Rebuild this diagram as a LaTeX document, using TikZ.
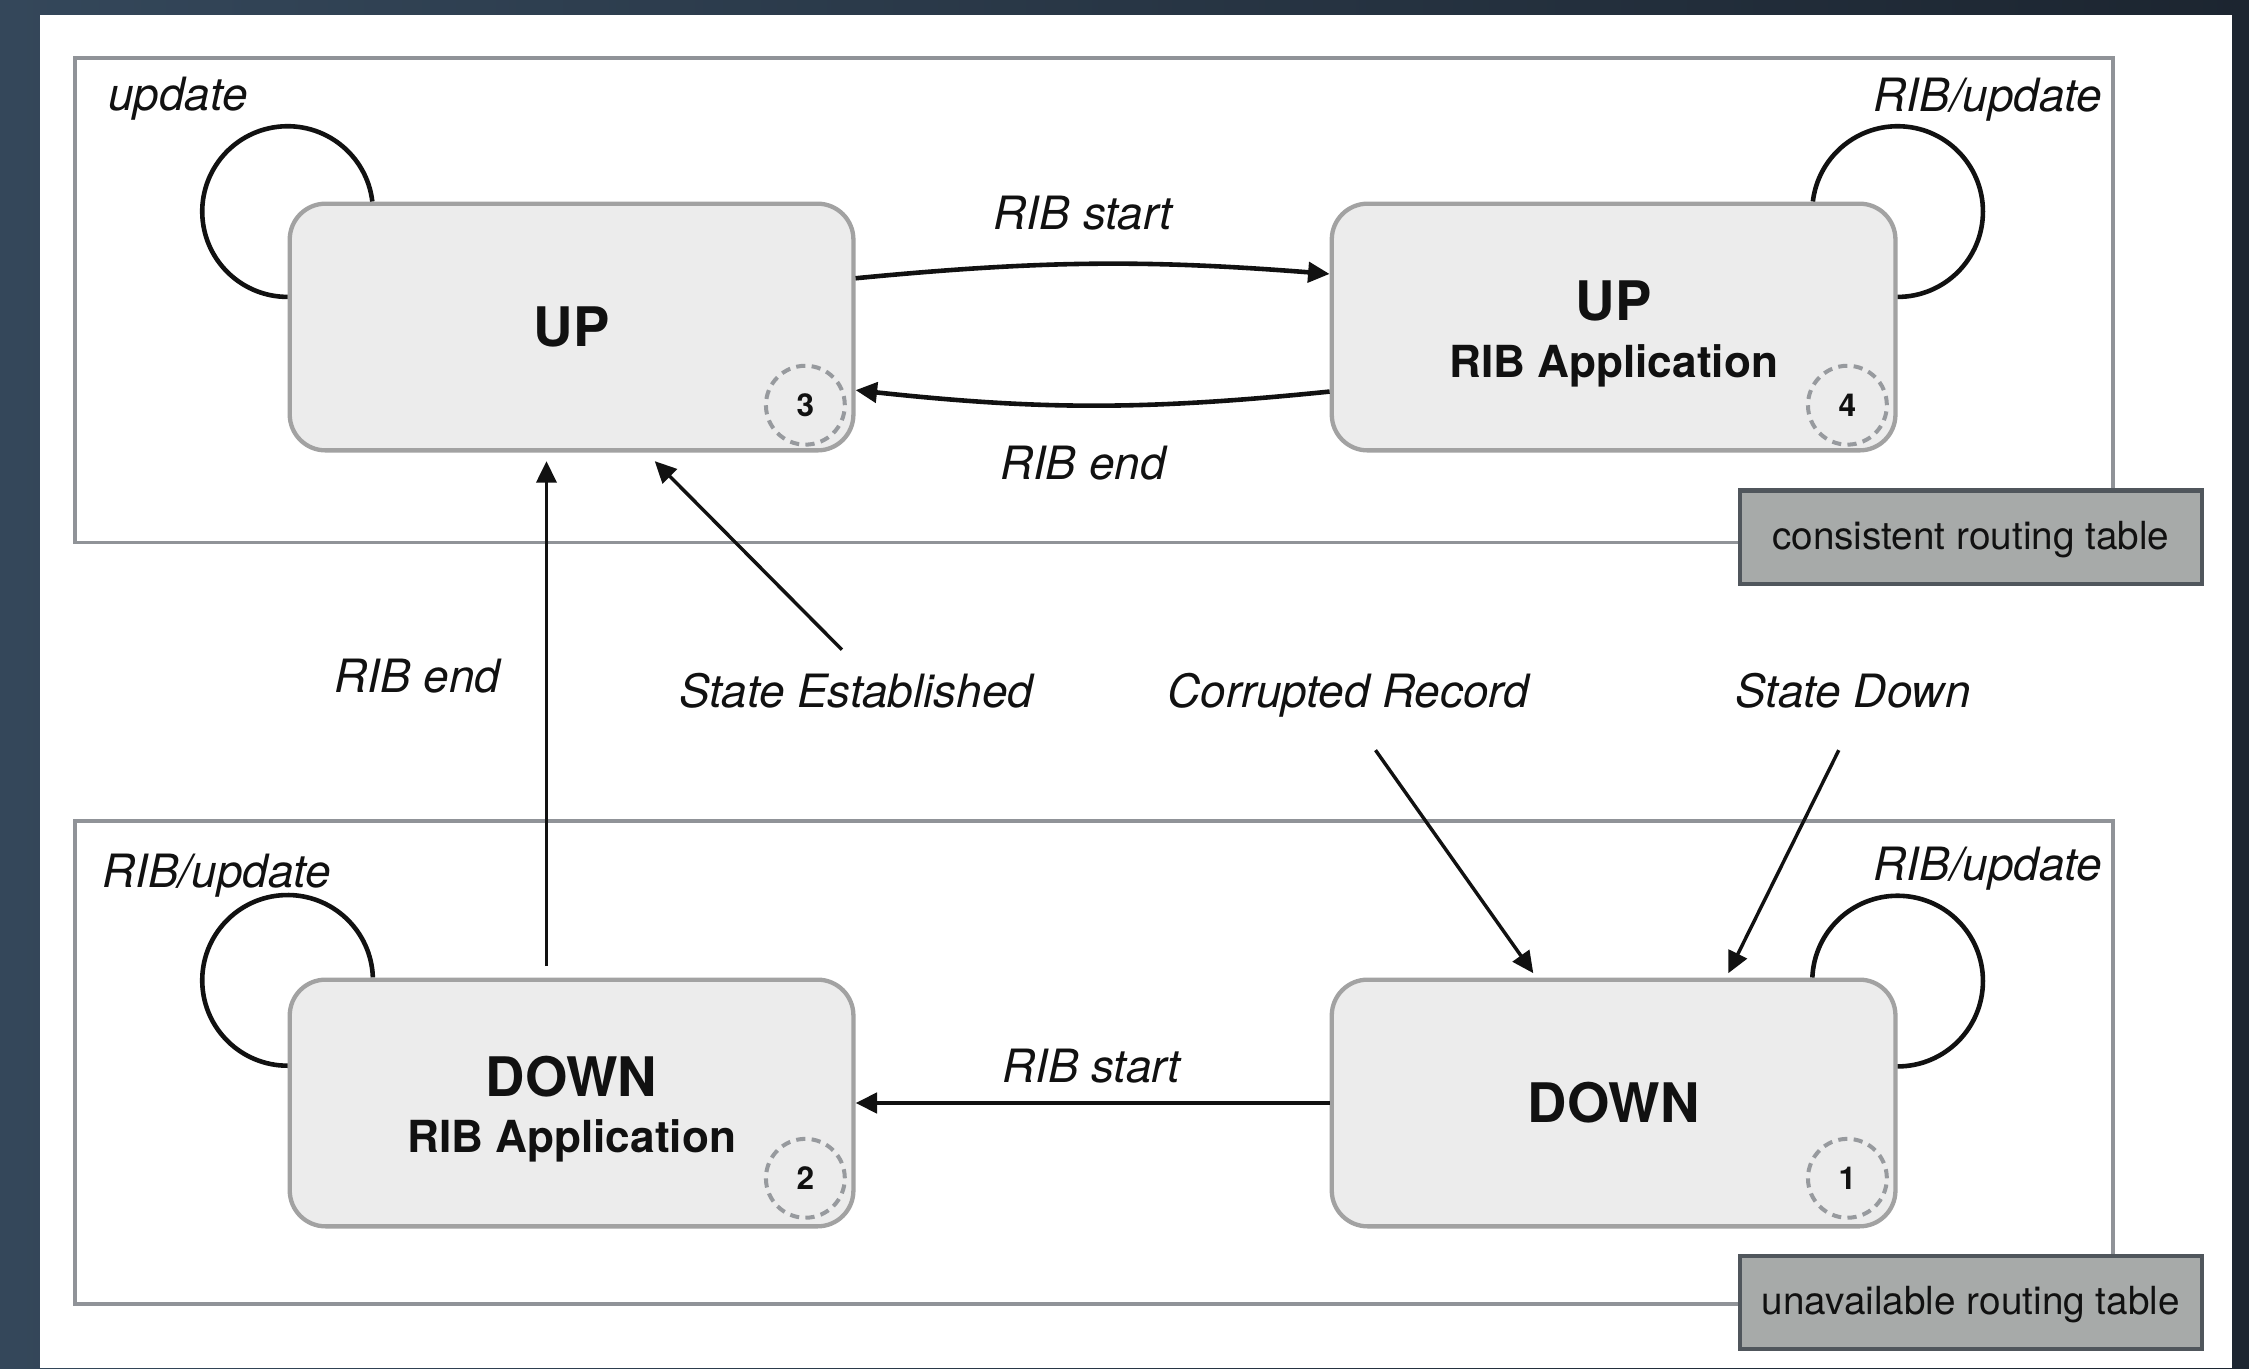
\documentclass[tikz,border=0pt]{standalone}
\usepackage{fontspec}
\setmainfont{TeX Gyre Heros}
\usetikzlibrary{calc,arrows.meta}
\definecolor{bgleft}{HTML}{34475A}
\definecolor{bgright}{HTML}{1C2530}
\definecolor{framegray}{HTML}{909398}
\definecolor{statefill}{HTML}{ECECEC}
\definecolor{stateline}{HTML}{A2A2A2}
\definecolor{badgegray}{HTML}{979A9E}
\definecolor{tagfill}{HTML}{A7AAA9}
\definecolor{tagline}{HTML}{50565C}
\definecolor{ink}{HTML}{111111}
\begin{document}
\begin{tikzpicture}[x=0.5pt,y=0.5pt,
  statebox/.style={draw=stateline, fill=statefill, line width=1.5pt, rounded corners=12.5pt,
    minimum width=196.5pt, minimum height=86pt, inner sep=0pt, align=center,
    font=\fontsize{15.4}{19.7}\selectfont\bfseries, text=ink},
  badge/.style={circle, draw=badgegray, dash pattern=on 3.2pt off 2.2pt, line width=1.4pt,
    minimum size=27.5pt, inner sep=0pt, font=\fontsize{11}{13}\selectfont\bfseries, text=ink},
  frame/.style={draw=framegray, line width=1.3pt, inner sep=0pt, anchor=north west},
  tag/.style={draw=tagline, fill=tagfill, line width=1.5pt, minimum width=161pt,
    minimum height=32.5pt, inner sep=0pt, text height=9.5pt, text depth=1pt,
    font=\fontsize{13.5}{16}\selectfont, text=ink},
  lbl/.style={anchor=base, inner sep=0pt, font=\fontsize{16}{19}\selectfont\itshape, text=ink},
  arr/.style={-{Triangle[length=7.5pt,width=7pt]}, line width=1.6pt, draw=ink},
  thinarr/.style={-{Triangle[length=7.5pt,width=7pt]}, line width=1.2pt, draw=ink},
  selfloop/.style={line width=1.6pt, draw=ink},
]
% background and canvas
\fill[left color=bgleft, right color=bgright] (0,0) rectangle (1568,-954);
\useasboundingbox (0,0) rectangle (1568,-954);
\fill[white] (28,-10.5) rectangle (1556,-954);

% group frames
\node[frame, minimum width=710.5pt, minimum height=169pt] (gtop) at (51,-39) {};
\node[frame, minimum width=710.5pt, minimum height=168.5pt] (gbot) at (51,-571) {};
\node[tag] (tagtop) at (1374,-374.5) {consistent routing table};
\node[tag] (tagbot) at (1374,-908) {unavailable routing table};

% states
\node[statebox] (s3) at (398.5,-228) {{\fontsize{19}{19.7}\selectfont UP}};
\node[statebox] (s4) at (1125,-228) {{\fontsize{19}{19.7}\selectfont\rule{0pt}{18.5pt}UP}\\RIB Application};
\node[statebox] (s2) at (398.5,-769) {{\fontsize{19}{19.7}\selectfont\rule{0pt}{18.5pt}DOWN}\\RIB Application};
\node[statebox] (s1) at (1125,-769) {{\fontsize{19}{19.7}\selectfont DOWN}};

% badges
\node[badge] (b3) at ($(s3.south east)+(-35,33)$) {3};
\node[badge] (b4) at ($(s4.south east)+(-35,33)$) {4};
\node[badge] (b2) at ($(s2.south east)+(-35,35)$) {2};
\node[badge] (b1) at ($(s1.south east)+(-35,35)$) {1};

% labels
\node[lbl] (lupd) at (124,-77) {update};
\node[lbl] (lru4) at (1386,-78) {RIB/update};
\node[lbl] (lru2) at (151,-619) {RIB/update};
\node[lbl] (lru1) at (1386,-614) {RIB/update};
\node[lbl] (lrs) at (755,-160) {RIB start};
\node[lbl] (lre) at (755,-334) {RIB end};
\node[lbl] (lre2) at (291,-483) {RIB end};
\node[lbl] (lse) at (597,-493) {State Established};
\node[lbl] (lcr) at (940,-493) {Corrupted Record};
\node[lbl] (lsd) at (1292,-493) {State Down};
\node[lbl] (lrs2) at (761,-755) {RIB start};

% connectors
\draw[arr] ($(s3.east)+(0,34)$) to[bend left=5] ($(s4.west)+(0,37)$);
\draw[arr] ($(s4.west)+(0,-45)$) to[bend left=6] ($(s3.east)+(0,-44)$);
\draw[thinarr] ($(s2.north)+(-17.5,8)$) -- ($(s3.south)+(-17.5,-6)$);
\draw[thinarr] ($(lse.base)+(-10,40)$) -- ($(s3.south)+(58,-6)$);
\draw[thinarr] ($(lcr.base)+(19,-30)$) -- ($(s1.north)+(-56,3)$);
\draw[thinarr] ($(lsd.base)+(-10,-30)$) -- ($(s1.north)+(80,3)$);
\draw[arr] (s1.west) -- (s2.east);

% self loops
\draw[selfloop] ($(s3.north west)+(0,-7)+(6.8:29.75pt)$) arc[start angle=6.8, end angle=270, radius=29.75pt];
\draw[selfloop] ($(s4.north east)+(0,-7)+(-90:29.75pt)$) arc[start angle=-90, end angle=173.2, radius=29.75pt];
\draw[selfloop] ($(s2.north west)+(0,-2)+(2:29.75pt)$) arc[start angle=2, end angle=270, radius=29.75pt];
\draw[selfloop] ($(s1.north east)+(0,-2.5)+(-90:29.75pt)$) arc[start angle=-90, end angle=177.6, radius=29.75pt];
\end{tikzpicture}
\end{document}
